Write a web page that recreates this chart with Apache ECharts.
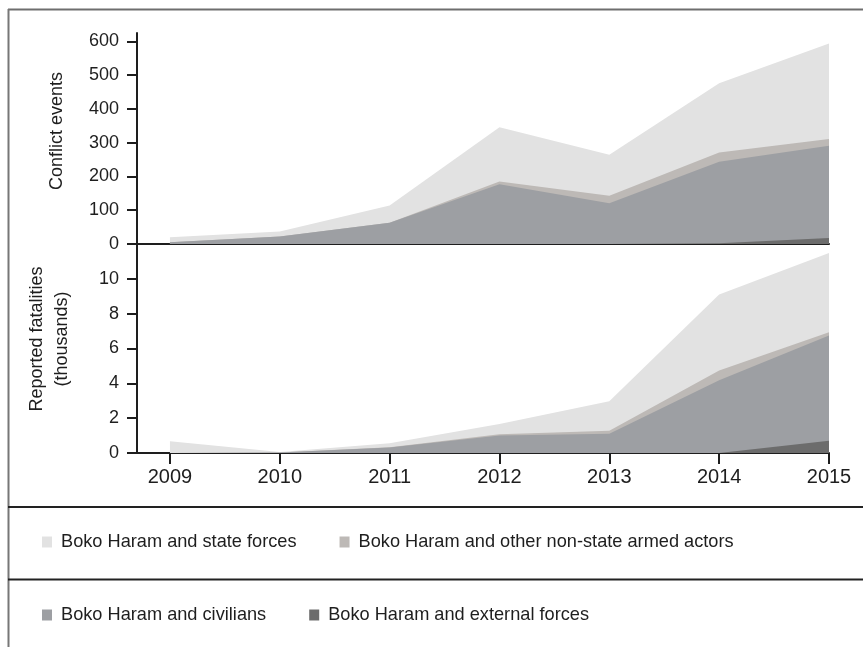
<!DOCTYPE html>
<html>
<head>
<meta charset="utf-8">
<script src="https://cdn.jsdelivr.net/npm/echarts@6/dist/echarts.min.js"></script>
<style>
html,body{margin:0;padding:0;background:#fff;}
#chart{width:863px;height:647px;}
</style>
</head>
<body>
<div id="chart"></div>
<script>
// ---- data ----
var years = [2009, 2010, 2011, 2012, 2013, 2014, 2015];
var seriesNames = [
  'Boko Haram and external forces',
  'Boko Haram and civilians',
  'Boko Haram and other non-state armed actors',
  'Boko Haram and state forces'
];
// Conflict events (layers, bottom to top)
var eventsExternal = [0, 0, 0, 0, 0, 2, 18];
var eventsCivilians = [5, 22, 63, 177, 121, 242, 273];
var eventsNonState = [0, 0, 0, 8, 22, 27, 20];
var eventsState = [15, 15, 51, 161, 121, 205, 283];
// Reported fatalities, thousands (layers, bottom to top)
var fatalExternal = [0, 0, 0, 0, 0, 0, 0.7];
var fatalCivilians = [0, 0.03, 0.32, 1.0, 1.11, 4.17, 6.04];
var fatalNonState = [0, 0, 0.01, 0.07, 0.17, 0.56, 0.19];
var fatalState = [0.67, 0.03, 0.23, 0.6, 1.69, 4.37, 4.56];
var eventTicks = [0, 100, 200, 300, 400, 500, 600];
var fatalTicks = [0, 2, 4, 6, 8, 10];

// ---- styling ----
var colors = ['#6c6c6c', '#9d9fa3', '#bdb9b6', '#e2e2e2'];
var FONT = '"Liberation Sans", Arial, sans-serif';
var INK = '#1e1e1e';

// Stack the layers (running sums), then draw top-most total first so lower layers overlay it.
function makeSeries(layers, axisIdx) {
  var cum = [];
  var running = years.map(function () { return 0; });
  layers.forEach(function (vals) {
    running = running.map(function (r, i) { return r + vals[i]; });
    cum.push(running.slice());
  });
  var out = [];
  for (var k = layers.length - 1; k >= 0; k--) {
    out.push({
      name: seriesNames[k],
      type: 'line',
      xAxisIndex: axisIdx,
      yAxisIndex: axisIdx,
      symbol: 'none',
      showSymbol: false,
      lineStyle: { width: 0 },
      areaStyle: { color: colors[k], opacity: 1 },
      itemStyle: { color: colors[k] },
      emphasis: { disabled: true },
      data: years.map(function (y, i) { return [y, cum[k][i]]; })
    });
  }
  return out;
}

var chart = echarts.init(document.getElementById('chart'), null, { renderer: 'canvas' });

var axisLineStyle = { color: INK, width: 2 };

var option = {
  animation: false,
  backgroundColor: '#fff',
  textStyle: { fontFamily: FONT, color: INK },
  grid: [
    { left: 137, right: 34, top: 33, height: 211 },
    { left: 137, right: 34, top: 244, height: 209 }
  ],
  xAxis: [
    {
      gridIndex: 0, type: 'value', min: 2008.7, max: 2015,
      axisLine: { show: true, lineStyle: axisLineStyle, onZero: false },
      axisTick: { show: false },
      axisLabel: { show: false },
      splitLine: { show: false }
    },
    {
      gridIndex: 1, type: 'value', min: 2008.7, max: 2015,
      axisLine: { show: true, lineStyle: axisLineStyle, onZero: false },
      axisTick: { show: true, inside: false, length: 11, lineStyle: { color: INK, width: 2 }, customValues: years },
      axisLabel: { show: true, customValues: years, fontSize: 20, color: INK, margin: 14, fontFamily: FONT,
        formatter: function (v) { return String(Math.round(v)); } },
      splitLine: { show: false }
    }
  ],
  yAxis: [
    {
      gridIndex: 0, type: 'value', min: 0, max: 625,
      axisLine: { show: true, lineStyle: axisLineStyle },
      axisTick: { show: true, inside: false, length: 10, lineStyle: { color: INK, width: 2 }, customValues: eventTicks },
      axisLabel: { show: true, customValues: eventTicks, fontSize: 18, color: INK, margin: 18, fontFamily: FONT },
      splitLine: { show: false }
    },
    {
      gridIndex: 1, type: 'value', min: 0, max: 12,
      axisLine: { show: true, lineStyle: axisLineStyle },
      axisTick: { show: true, inside: false, length: 10, lineStyle: { color: INK, width: 2 }, customValues: fatalTicks },
      axisLabel: { show: true, customValues: fatalTicks, fontSize: 18, color: INK, margin: 18, fontFamily: FONT },
      splitLine: { show: false }
    }
  ],
  legend: [
    {
      left: 42, top: 533, orient: 'horizontal', padding: 0,
      icon: 'rect', itemWidth: 10, itemHeight: 11, itemGap: 43,
      selectedMode: false,
      textStyle: { fontSize: 18.2, color: INK, fontFamily: FONT, padding: [0, 0, 0, 4] },
      data: ['Boko Haram and state forces', 'Boko Haram and other non-state armed actors']
    },
    {
      left: 42, top: 606, orient: 'horizontal', padding: 0,
      icon: 'rect', itemWidth: 10, itemHeight: 11, itemGap: 43,
      selectedMode: false,
      textStyle: { fontSize: 18.2, color: INK, fontFamily: FONT, padding: [0, 0, 0, 4] },
      data: ['Boko Haram and civilians', 'Boko Haram and external forces']
    }
  ],
  graphic: [
    { type: 'line', shape: { x1: 8, y1: 9.5, x2: 863, y2: 9.5 }, style: { stroke: '#6e6e6e', lineWidth: 2 }, silent: true },
    { type: 'line', shape: { x1: 8.5, y1: 9, x2: 8.5, y2: 647 }, style: { stroke: '#777777', lineWidth: 2 }, silent: true },
    { type: 'line', shape: { x1: 8, y1: 507, x2: 863, y2: 507 }, style: { stroke: '#222222', lineWidth: 2 }, silent: true },
    { type: 'line', shape: { x1: 8, y1: 579.5, x2: 863, y2: 579.5 }, style: { stroke: '#222222', lineWidth: 2 }, silent: true },
    {
      type: 'text', x: 57, y: 131, rotation: Math.PI / 2, silent: true,
      style: { text: 'Conflict events', fill: INK, font: '18px ' + FONT, textAlign: 'center', textVerticalAlign: 'middle', align: 'center', verticalAlign: 'middle' }
    },
    {
      type: 'text', x: 49.5, y: 339, rotation: Math.PI / 2, silent: true,
      style: { text: 'Reported fatalities\n(thousands)', fill: INK, font: '18px ' + FONT, lineHeight: 25, textAlign: 'center', textVerticalAlign: 'middle', align: 'center', verticalAlign: 'middle' }
    }
  ],
  series: []
    .concat(makeSeries([eventsExternal, eventsCivilians, eventsNonState, eventsState], 0))
    .concat(makeSeries([fatalExternal, fatalCivilians, fatalNonState, fatalState], 1))
};

chart.setOption(option);
</script>
</body>
</html>
